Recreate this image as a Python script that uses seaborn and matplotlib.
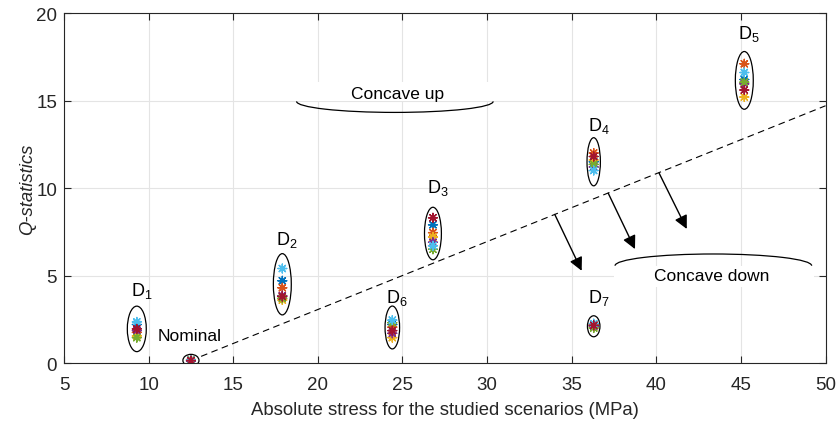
import numpy as np
import pandas as pd
import matplotlib
matplotlib.use("Agg")
import matplotlib.pyplot as plt
from matplotlib.patches import Ellipse, Arc, Rectangle
import seaborn as sns

# ---------------- data ----------------
clusters = ["Nominal", "D1", "D2", "D3", "D4", "D5", "D6", "D7"]
cluster_x = [12.5, 9.3, 17.9, 26.8, 36.3, 45.2, 24.4, 36.3]
# values per colour index: blue, orange, yellow, purple, green, cyan, red
nominal_q = [0.15, 0.20, 0.10, 0.12, 0.18, 0.16, 0.14]
d1_q = [2.20, 1.75, 1.55, 1.85, 1.45, 2.35, 1.95]
d2_q = [4.70, 4.30, 3.60, 3.85, 3.70, 5.40, 3.80]
d3_q = [7.90, 7.45, 7.20, 6.90, 6.50, 6.70, 8.30]
d4_q = [11.50, 12.00, 11.60, 11.20, 11.35, 11.00, 11.80]
d5_q = [16.20, 17.10, 15.20, 15.95, 16.05, 16.60, 15.60]
d6_q = [2.20, 2.05, 1.45, 1.70, 2.30, 2.45, 1.85]
d7_q = [2.15, 2.20, 2.05, 2.10, 2.00, 2.25, 2.15]
q_values = [nominal_q, d1_q, d2_q, d3_q, d4_q, d5_q, d6_q, d7_q]

x_ticks = [5, 10, 15, 20, 25, 30, 35, 40, 45, 50]
y_ticks = [0, 5, 10, 15, 20]

matlab_colors = ["#0072BD", "#D95319", "#EDB120", "#7E2F8E",
                 "#77AC30", "#4DBEEE", "#A2142F"]

rows = []
for name, xc, qs in zip(clusters, cluster_x, q_values):
    for k, q in enumerate(qs):
        rows.append({"cluster": name, "x": xc, "q": q, "run": k})
df = pd.DataFrame(rows)

# ---------------- style ----------------
sns.set_theme(style="white")
plt.rcParams["font.family"] = ["Liberation Sans", "DejaVu Sans"]
plt.rcParams["mathtext.default"] = "regular"

fig = plt.figure(figsize=(8.37, 4.27), dpi=100)
ax = fig.add_axes([0.0765, 0.1475, 0.9098, 0.8197])

sns.scatterplot(data=df, x="x", y="q", hue="run", palette=matlab_colors,
                marker=(8, 2, 0), s=40, linewidth=1.0, legend=False,
                ax=ax, zorder=4)
coll = ax.collections[-1]
coll.set_edgecolors(coll.get_facecolors())

# ellipses around clusters (center x, center y, width, height)
ell_cx = [12.5, 9.3, 17.9, 26.8, 36.3, 45.2, 24.4, 36.3]
ell_cy = [0.15, 1.95, 4.5, 7.4, 11.5, 16.15, 2.03, 2.1]
ell_w = [0.95, 1.12, 1.06, 1.0, 0.79, 1.06, 0.86, 0.74]
ell_h = [0.69, 2.6, 3.5, 3.0, 2.75, 3.3, 2.45, 1.2]
for cx, cy, w, h in zip(ell_cx, ell_cy, ell_w, ell_h):
    ax.add_patch(Ellipse((cx, cy), w, h, fill=False, ec="black",
                         lw=0.9, zorder=5))

# cluster labels
lab_x = [8.95, 17.55, 26.45, 35.95, 44.85, 24.05, 35.95]
lab_y = [3.9, 6.8, 9.77, 13.3, 18.6, 3.5, 3.5]
for i, (lx, ly) in enumerate(zip(lab_x, lab_y), start=1):
    ax.text(lx, ly, r"$\mathregular{D_{%d}}$" % i, fontsize=13,
            ha="left", va="baseline", color="black", zorder=6)
ax.text(12.45, 1.55, "Nominal", fontsize=12.5, ha="center", va="center",
        color="black", zorder=6)

# dashed boundary line
line_x = [13.1, 50.0]
line_y = [0.38, 14.7]
ax.plot(line_x, line_y, ls=(0, (6, 4)), color="black", lw=0.8, zorder=3)

# arrows
arrow_start = [(34.0, 8.49), (37.16, 9.70), (40.16, 10.86)]
arrow_end = [(35.59, 5.27), (38.74, 6.51), (41.80, 7.66)]
for s, e in zip(arrow_start, arrow_end):
    ax.annotate("", xy=e, xytext=s,
                arrowprops=dict(arrowstyle="-|>", color="black", lw=1.0,
                                mutation_scale=20, shrinkA=0, shrinkB=0),
                zorder=6)

# "Concave up" marker
ax.add_patch(Arc((24.55, 14.95), 11.62, 1.26, theta1=180, theta2=360,
                 color="black", lw=0.9, zorder=3))
ax.add_patch(Rectangle((18.6, 14.97), 11.9, 1.1, fc="white", ec="none",
                       zorder=2.5))
ax.text(24.7, 15.38, "Concave up", fontsize=12.5, ha="center", va="center",
        color="black", zorder=6)

# "Concave down" marker
ax.add_patch(Arc((43.37, 5.56), 11.62, 1.34, theta1=0, theta2=180,
                 color="black", lw=0.9, zorder=3))
ax.add_patch(Rectangle((37.5, 4.35), 11.8, 1.2, fc="white", ec="none",
                       zorder=2.5))
ax.text(43.3, 5.0, "Concave down", fontsize=12.5, ha="center", va="center",
        color="black", zorder=6)

# axes formatting
ax.set_xlim(5, 50)
ax.set_ylim(0, 20)
ax.set_xticks(x_ticks)
ax.set_yticks(y_ticks)
ax.grid(True, color="#e4e4e4", lw=0.8, zorder=0)
ax.set_axisbelow(True)
for sp in ax.spines.values():
    sp.set_visible(True)
    sp.set_color("#262626")
    sp.set_linewidth(0.8)
ax.tick_params(direction="in", length=5, width=0.8, color="#262626",
               labelsize=13.5, labelcolor="#262626", top=True, right=True,
               bottom=True, left=True)
ax.tick_params(axis="x", pad=9)
ax.tick_params(axis="y", pad=5)
ax.set_xlabel("Absolute stress for the studied scenarios (MPa)",
              fontsize=13.3, color="#262626", va="center")
ax.set_ylabel("Q-statistics", fontsize=13.3, fontstyle="italic",
              color="#262626", va="center")
ax.xaxis.set_label_coords(0.5, -(410 - 364) / 350.0)
ax.yaxis.set_label_coords(-(64 - 28) / 761.5, 0.5)

fig.savefig("out.png", dpi=100)
